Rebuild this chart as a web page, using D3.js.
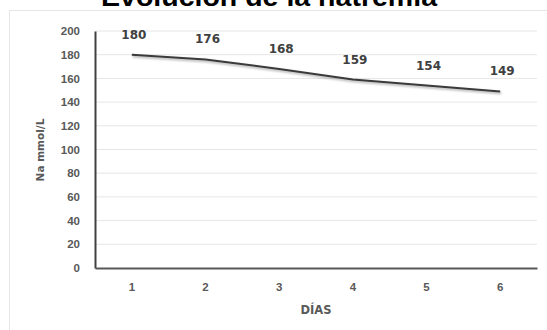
<!DOCTYPE html>
<html lang="es">
<head>
<meta charset="UTF-8">
<title>Evolución de la natremia</title>
<script src="https://d3js.org/d3.v7.min.js"></script>
<style>
  body { margin: 0; background: #fff; }
  svg { font-family: "DejaVu Sans", Verdana, sans-serif; }
  .tick text { font-weight: bold; fill: #595959; font-size: 11.5px; }
</style>
</head>
<body>
<div id="chart"></div>
<script>
// datos
var dias = ["1", "2", "3", "4", "5", "6"];
var sodio = [180, 176, 168, 159, 154, 149];
var yTicks = [0, 20, 40, 60, 80, 100, 120, 140, 160, 180, 200];

var width = 547, height = 330;
var margin = { top: 31, right: 10, bottom: 62, left: 95 };

var svg = d3.select("#chart").append("svg")
  .attr("width", width)
  .attr("height", height);

// marco
svg.append("rect")
  .attr("x", 9.5).attr("y", 10.5)
  .attr("width", 560).attr("height", 340)
  .attr("fill", "none")
  .attr("stroke", "#e6e6e6");

// sombra de la línea
var defs = svg.append("defs");
var f = defs.append("filter").attr("id", "sombra")
  .attr("x", "-5%").attr("y", "-50%").attr("width", "110%").attr("height", "200%");
f.append("feDropShadow").attr("dx", 1).attr("dy", 1.5).attr("stdDeviation", 1)
  .attr("flood-color", "#000").attr("flood-opacity", 0.35);

var x = d3.scaleBand()
  .domain(dias)
  .range([margin.left, width - margin.right]);

var y = d3.scaleLinear()
  .domain([0, 200])
  .range([height - margin.bottom, margin.top]);

// rejilla
svg.append("g")
  .selectAll("line")
  .data(yTicks.filter(function (d) { return d > 0; }))
  .enter().append("line")
  .attr("x1", margin.left).attr("x2", width - margin.right)
  .attr("y1", function (d) { return y(d); })
  .attr("y2", function (d) { return y(d); })
  .attr("stroke", "#e6e6e6")
  .attr("stroke-width", 1);

// eje Y
var gy = svg.append("g")
  .attr("transform", "translate(" + margin.left + ",0)")
  .call(d3.axisLeft(y).tickValues(yTicks).tickSize(0).tickPadding(15));
gy.select(".domain").attr("stroke", "#404040").attr("stroke-width", 2);

// eje X
var gx = svg.append("g")
  .attr("transform", "translate(0," + (height - margin.bottom) + ")")
  .call(d3.axisBottom(x).tickSize(0).tickPadding(15));
gx.select(".domain").attr("stroke", "#595959").attr("stroke-width", 2);

// línea
var line = d3.line()
  .x(function (d, i) { return x(dias[i]) + x.bandwidth() / 2; })
  .y(function (d) { return y(d); });

svg.append("path")
  .datum(sodio)
  .attr("d", line)
  .attr("fill", "none")
  .attr("stroke", "#3a3a3a")
  .attr("stroke-width", 2)
  .attr("filter", "url(#sombra)");

// etiquetas de datos
svg.append("g")
  .selectAll("text")
  .data(sodio)
  .enter().append("text")
  .attr("x", function (d, i) { return x(dias[i]) + x.bandwidth() / 2 + 2; })
  .attr("y", function (d) { return y(d) - 16; })
  .attr("text-anchor", "middle")
  .attr("font-size", 12)
  .attr("font-weight", "bold")
  .attr("fill", "#404040")
  .text(function (d) { return d; });

// título
svg.append("text")
  .attr("x", 269).attr("y", 6)
  .attr("text-anchor", "middle")
  .attr("font-family", "'Liberation Sans', Arial, sans-serif")
  .attr("font-size", 25)
  .attr("font-weight", "bold")
  .attr("fill", "#000")
  .attr("textLength", 336)
  .attr("lengthAdjust", "spacingAndGlyphs")
  .text("Evolución de la natremia");

// título eje Y
svg.append("text")
  .attr("transform", "translate(44," + 150 + ") rotate(-90)")
  .attr("text-anchor", "middle")
  .attr("font-size", 10.5)
  .attr("font-weight", "bold")
  .attr("fill", "#595959")
  .text("Na mmol/L");

// título eje X
svg.append("text")
  .attr("x", (margin.left + width - margin.right) / 2)
  .attr("y", 314)
  .attr("text-anchor", "middle")
  .attr("font-size", 11.5)
  .attr("font-weight", "bold")
  .attr("fill", "#595959")
  .text("DÍAS");
</script>
</body>
</html>
